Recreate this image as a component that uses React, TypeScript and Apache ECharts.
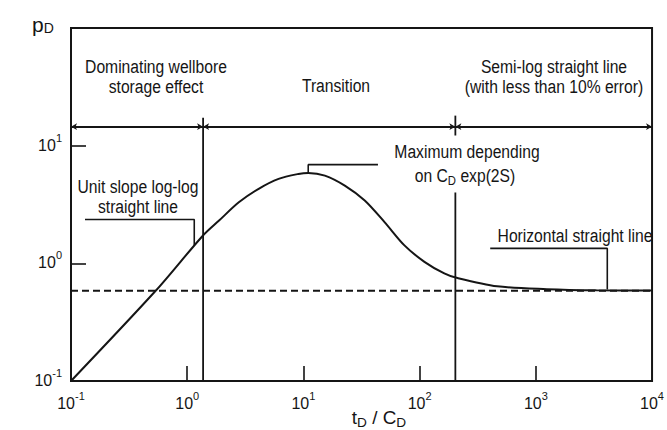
import React, { useEffect, useRef } from "react";
import * as echarts from "echarts";

// Dimensionless time t_D / C_D and the matching dimensionless pressure p_D
const curveT = [0.1, 0.54, 1.35, 1.88, 2.78, 4.12, 6.11, 9.06, 11.0, 15.3, 22.7, 33.7, 49.9, 74.0, 110, 163, 204, 464, 1242, 3319, 10000];
const curveP = [0.1, 0.59, 1.7, 2.31, 3.3, 4.3, 5.22, 5.75, 5.87, 5.57, 4.58, 3.42, 2.24, 1.42, 1.03, 0.82, 0.757, 0.638, 0.603, 0.59, 0.588];

// Tick positions and labels
const xLabelValues = [0.1, 1, 10, 100, 1000, 10000];
const xTickValues = [1, 10, 100, 1000];
const yLabelValues = [0.1, 1, 10];
const yTickValues = [1, 10];

// Reference levels
const semiLogLevel = 0.585; // dashed horizontal asymptote
const bandLevel = 14.5; // arrowed line separating the flow regimes
const regimeBounds = [0.1, 1.37, 203, 10000]; // boundaries between regimes

// Leader lines for annotations
const unitSlopeLeader = [[0.132, 2.36], [1.15, 2.36], [1.15, 1.42]];
const maximumLeader = [[11.0, 5.87], [11.0, 6.9], [43.8, 6.9]];
const horizontalLeader = [[405, 1.34], [4120, 1.34], [4120, 0.6]];

const FONT = "'Liberation Sans', Arial, sans-serif";
const INK = "#151515";

const pow10Label = (v: number) => {
  const e = Math.round(Math.log10(v));
  return `{b|10}{s|${e}}`;
};

const xLabelRich = {
  b: { fontSize: 16, fontFamily: FONT, color: INK, padding: [5, 0, 0, 0], verticalAlign: "top" },
  s: { fontSize: 11, fontFamily: FONT, color: INK, verticalAlign: "top" },
};

const yLabelRich = {
  b: { fontSize: 16, fontFamily: FONT, color: INK, padding: [5, 0, 6, 0], verticalAlign: "top" },
  s: { fontSize: 11, fontFamily: FONT, color: INK, verticalAlign: "top" },
};

const polyline = (pts: number[][], width = 1.6) => ({
  type: "line",
  data: pts,
  showSymbol: false,
  symbol: "none",
  silent: true,
  lineStyle: { color: INK, width },
  z: 3,
});

const text = (x: number, y: number, t: string, extra: any = {}, scaleX = 0.87) => ({
  type: "text",
  x,
  y,
  scaleX,
  silent: true,
  style: {
    text: t,
    fill: INK,
    fontSize: 18,
    fontFamily: FONT,
    align: "center",
    verticalAlign: "middle",
    lineHeight: 20,
    ...extra,
  },
});

const subRich = {
  a: { fontSize: 18, fontFamily: FONT, fill: INK },
  d: { fontSize: 13, fontFamily: FONT, fill: INK, padding: [9, 0, 0, 0] },
};

export default function App() {
  const ref = useRef<HTMLDivElement>(null);

  useEffect(() => {
    if (!ref.current) return;
    const chart = echarts.init(ref.current, null, { renderer: "svg" });

    const curve = curveT.map((t, i) => [t, curveP[i]]);
    const bandSegments = [];
    for (let i = 0; i < regimeBounds.length - 1; i++) {
      bandSegments.push([{ coord: [regimeBounds[i], bandLevel] }, { coord: [regimeBounds[i + 1], bandLevel] }]);
    }

    chart.setOption({
      animation: false,
      backgroundColor: "#ffffff",
      grid: {
        left: 71,
        right: 10,
        top: 28,
        bottom: 49,
        show: true,
        borderColor: INK,
        borderWidth: 2,
      },
      xAxis: {
        type: "log",
        logBase: 10,
        min: 0.1,
        max: 10000,
        axisLine: { lineStyle: { color: INK, width: 2 } },
        axisTick: { inside: true, length: 15, customValues: xTickValues, lineStyle: { color: INK, width: 1.6 } },
        axisLabel: { customValues: xLabelValues, margin: 9, formatter: pow10Label, rich: xLabelRich },
        splitLine: { show: false },
        minorTick: { show: false },
      },
      yAxis: {
        type: "log",
        logBase: 10,
        min: 0.1,
        max: 100,
        axisLine: { lineStyle: { color: INK, width: 2 } },
        axisTick: { inside: true, length: 15, customValues: yTickValues, lineStyle: { color: INK, width: 1.6 } },
        axisLabel: { customValues: yLabelValues, margin: 9, formatter: pow10Label, rich: yLabelRich, verticalAlign: "middle" },
        splitLine: { show: false },
        minorTick: { show: false },
      },
      series: [
        {
          type: "line",
          data: curve,
          smooth: 0.3,
          showSymbol: false,
          symbol: "none",
          silent: true,
          lineStyle: { color: INK, width: 2 },
          z: 4,
        },
        {
          type: "line",
          data: [[0.1, semiLogLevel], [10000, semiLogLevel]],
          showSymbol: false,
          symbol: "none",
          silent: true,
          lineStyle: { color: INK, width: 2, type: [7, 4] },
          z: 3,
          markLine: {
            silent: true,
            symbol: ["arrow", "arrow"],
            symbolSize: [5, 6],
            label: { show: false },
            lineStyle: { color: INK, width: 2, type: "solid" },
            data: bandSegments,
          },
        },
        // regime boundaries
        polyline([[1.37, 0.1], [1.37, 17.3]], 1.8),
        polyline([[203, 0.1], [203, 4.0]], 1.8),
        polyline([[203, 12.2], [203, 18]], 1.8),
        // leaders
        polyline(unitSlopeLeader),
        polyline(maximumLeader),
        polyline(horizontalLeader),
      ],
      graphic: [
        text(43, 24, "{p|p}{d|D}", {
          rich: {
            p: { fontSize: 21, fontFamily: FONT, fill: INK },
            d: { fontSize: 14, fontFamily: FONT, fill: INK, padding: [8, 0, 0, 0] },
          },
        }, 1),
        text(156, 77, "Dominating wellbore\nstorage effect"),
        text(336, 86, "Transition"),
        text(554, 77, "Semi-log straight line\n(with less than 10% error)"),
        text(138, 197, "Unit slope log-log\nstraight line"),
        text(467, 152, "Maximum depending"),
        text(465, 176, "{a|on C}{d|D}{a| exp(2S)}", { rich: subRich }),
        text(575, 236, "Horizontal straight line"),
        text(379, 418, "{a|t}{d|D}{a| / C}{d|D}", { rich: subRich }, 1.05),
      ],
    });

    return () => chart.dispose();
  }, []);

  return (
    <div
      ref={ref}
      style={{ position: "absolute", left: 0, top: 0, width: 667, height: 430, background: "#fff" }}
    />
  );
}
